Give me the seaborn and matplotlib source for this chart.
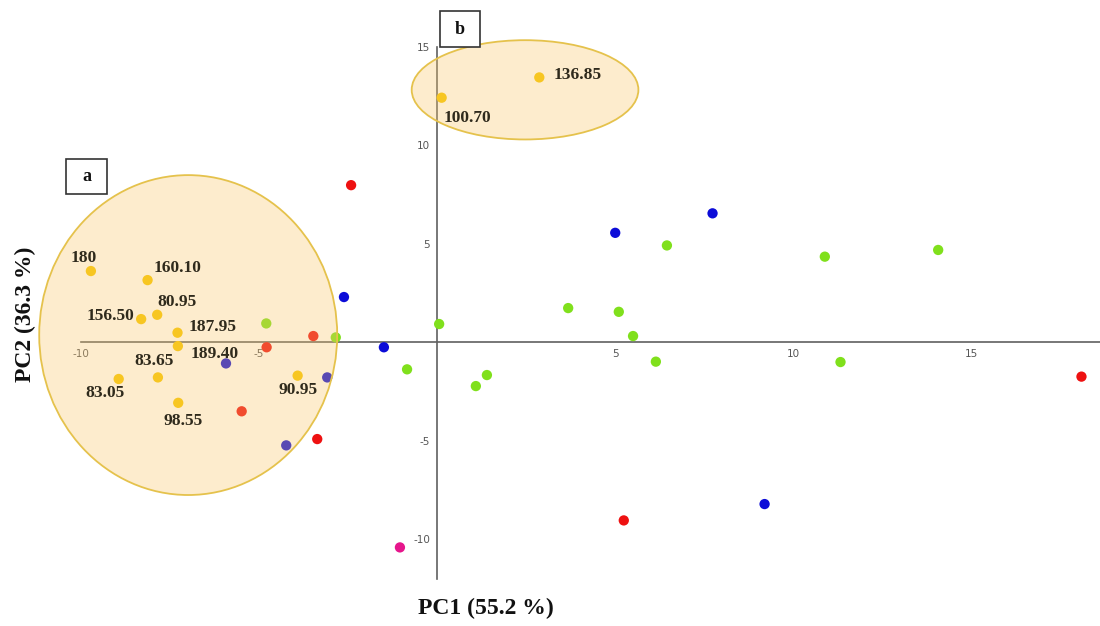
"""
Gráfico PCA (PC1 x PC2) com os grupos de amostras e as elipses a e b.
"""

import pandas as pd
import matplotlib
matplotlib.use("Agg")
import matplotlib.pyplot as plt
from matplotlib.patches import Ellipse, Rectangle
import seaborn as sns

# Dados (coordenadas PC1, PC2)
amarelo_x = [-9.71, -8.12, -8.30, -7.85, -7.28, -7.27, -7.83, -8.93, -7.26, -3.91, 0.13, 2.87]
amarelo_y = [3.62, 3.16, 1.18, 1.40, 0.49, -0.19, -1.78, -1.86, -3.07, -1.69, 12.42, 13.45]
rotulos = ["180", "160.10", "156.50", "80.95", "187.95", "189.40",
           "83.65", "83.05", "98.55", "90.95", "100.70", "136.85"]

vermelho_x = [-2.41, -3.47, -4.78, -5.48, -3.36, 5.24, 18.08]
vermelho_y = [7.98, 0.32, -0.25, -3.50, -4.91, -9.04, -1.74]

azul_x = [-2.61, -1.49, -5.92, -3.08, -4.23, 5.00, 7.73, 9.19]
azul_y = [2.30, -0.25, -1.07, -1.78, -5.23, 5.56, 6.55, -8.21]

verde_x = [-4.79, -2.84, 0.06, -0.84, 1.40, 1.09, 3.68, 5.10, 5.50, 6.14, 6.45, 10.88, 14.06, 11.32]
verde_y = [0.96, 0.25, 0.93, -1.37, -1.66, -2.22, 1.74, 1.55, 0.32, -0.98, 4.92, 4.35, 4.69, -1.00]

rosa_x = [-1.04]
rosa_y = [-10.41]

# elipses: (centro x, centro y, largura, altura)
elipse_a = (-6.98, 0.37, 8.36, 16.24)
elipse_b = (2.47, 12.82, 6.36, 5.04)

x_ticks = [-10, -5, 5, 10, 15]
y_ticks = [-10, -5, 5, 10, 15]

cores = {
    "amarelo": "#f7c600",
    "vermelho": "#ee1111",
    "azul": "#0c0cd8",
    "verde": "#80e01c",
    "rosa": "#e6168c",
}

# deslocamento dos rótulos em pixels (dx, dy para cima)
desloc = [(-7, 13), (30, 12), (-31, 3), (20, 13), (35, 6), (37, -8),
          (-4, 16), (-14, -14), (5, -18), (0, -14), (26, -20), (38, 2)]

sns.set_style("white")
plt.rcParams["font.family"] = ["DejaVu Sans"]
SERIF = ["Liberation Serif", "DejaVu Serif"]


def montar_df():
    partes = []
    for nome, xs, ys in [("amarelo", amarelo_x, amarelo_y),
                         ("vermelho", vermelho_x, vermelho_y),
                         ("azul", azul_x, azul_y),
                         ("verde", verde_x, verde_y),
                         ("rosa", rosa_x, rosa_y)]:
        partes.append(pd.DataFrame({"PC1": xs, "PC2": ys, "grupo": nome}))
    return pd.concat(partes, ignore_index=True)


def main():
    df = montar_df()

    fig = plt.figure(figsize=(11, 6.26), dpi=100)
    ax = fig.add_axes([0, 0, 1, 1])

    sns.scatterplot(data=df, x="PC1", y="PC2", hue="grupo", palette=cores,
                    s=55, linewidth=0, legend=False, ax=ax, zorder=3)

    # elipses por cima dos pontos, semitransparentes
    for cx, cy, w, h in [elipse_a, elipse_b]:
        ax.add_patch(Ellipse((cx, cy), w, h, facecolor="#f9c66a",
                             alpha=0.33, edgecolor="none", zorder=5))
        ax.add_patch(Ellipse((cx, cy), w, h, facecolor="none",
                             edgecolor="#e5c24c", linewidth=1.3, zorder=6))

    # rótulos das amostras amarelas
    for x, y, txt, (dx, dy) in zip(amarelo_x, amarelo_y, rotulos, desloc):
        ax.annotate(txt, (x, y), xytext=(dx * 0.72, dy * 0.72),
                    textcoords="offset points", ha="center", va="center",
                    fontsize=12.5, fontweight="bold", family=SERIF,
                    color="#2f2a1c", zorder=7)

    # eixos cruzando na origem
    ax.set_xlim(-12.26, 18.60)
    ax.set_ylim(-14.40, 17.38)
    for lado in ["top", "right"]:
        ax.spines[lado].set_visible(False)
    ax.spines["bottom"].set_position(("data", 0))
    ax.spines["left"].set_position(("data", 0))
    ax.spines["bottom"].set_bounds(-10, 18.6)
    ax.spines["left"].set_bounds(-12, 15)
    for lado in ["bottom", "left"]:
        ax.spines[lado].set_color("#606060")
        ax.spines[lado].set_linewidth(1.2)
    ax.set_xticks(x_ticks)
    ax.set_yticks(y_ticks)
    ax.set_xticklabels([str(t) for t in x_ticks])
    ax.set_yticklabels([str(t) for t in y_ticks])
    ax.tick_params(direction="out", length=3, width=0.8, color="#606060",
                   labelsize=7.5, labelcolor="#555555", pad=2)
    ax.set_xlabel("")
    ax.set_ylabel("")
    ax.set_facecolor("white")

    # títulos dos eixos
    fig.text(486 / 1100, 1 - 608 / 626, "PC1 (55.2 %)", ha="center", va="center",
             fontsize=17, fontweight="bold", family=SERIF, color="#111111")
    fig.text(25 / 1100, 1 - 314 / 626, "PC2 (36.3 %)", ha="center", va="center",
             rotation=90, fontsize=17, fontweight="bold", family=SERIF, color="#111111")

    # caixas a e b
    for letra, (px0, py0, px1, py1) in [("a", (66, 159, 107, 194)),
                                        ("b", (440, 11, 480, 47))]:
        fig.add_artist(Rectangle((px0 / 1100, 1 - py1 / 626),
                                 (px1 - px0) / 1100, (py1 - py0) / 626,
                                 transform=fig.transFigure, facecolor="white",
                                 edgecolor="#333333", linewidth=1.2, zorder=10))
        fig.text((px0 + px1) / 2 / 1100, 1 - (py0 + py1) / 2 / 626, letra,
                 ha="center", va="center", fontsize=13, fontweight="bold",
                 family=SERIF, color="#111111", zorder=11)

    fig.savefig("out.png", dpi=100)
    plt.close(fig)


if __name__ == "__main__":
    main()
